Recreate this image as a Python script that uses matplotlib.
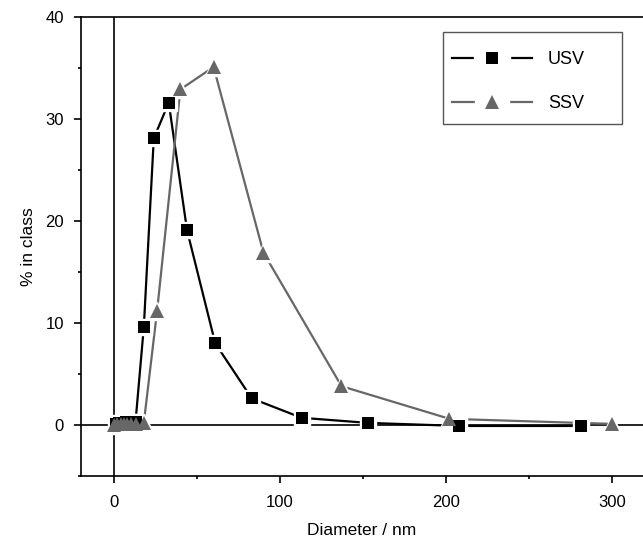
import matplotlib
matplotlib.use("Agg")
import matplotlib.pyplot as plt
from matplotlib.lines import Line2D
from matplotlib.patches import Rectangle
from matplotlib.ticker import MultipleLocator

plt.rcParams["font.family"] = ["Liberation Sans", "DejaVu Sans"]

# USV data (black squares)
usv_d = [1, 3, 5, 7, 9, 11, 13, 18, 24, 33, 44, 61, 83, 113, 153, 208, 281]
usv_p = [0.1, 0.2, 0.2, 0.3, 0.2, 0.3, 0.3, 9.6, 28.1, 31.6, 19.1, 8.0, 2.6, 0.7, 0.2, -0.1, -0.1]

# SSV data (grey triangles)
ssv_d = [0, 2, 4, 6, 8, 10, 13, 18, 26, 40, 60, 90, 137, 202, 300]
ssv_p = [0.0, 0.1, 0.1, 0.1, 0.1, 0.1, 0.1, 0.2, 11.2, 32.9, 35.1, 16.9, 3.8, 0.6, 0.1]

grey = "#676767"

fig = plt.figure(figsize=(6.43, 5.39), dpi=100)
ax = fig.add_axes([0.1255, 0.117, 0.8745, 0.8515])

ax.axhline(0, color="black", lw=1.2, zorder=1)
ax.axvline(0, color="black", lw=1.2, zorder=1)

# lines
ax.plot(usv_d, usv_p, color="black", lw=1.6, zorder=2)
ax.plot(ssv_d, ssv_p, color=grey, lw=1.6, zorder=2)
# white gaps around markers
ax.plot(usv_d, usv_p, ls="none", marker="s", ms=12, mfc="white", mec="white", zorder=3)
ax.plot(ssv_d, ssv_p, ls="none", marker="^", ms=13, mfc="white", mec="white", zorder=3)
# markers
ax.plot(usv_d, usv_p, ls="none", marker="s", ms=9, mfc="black", mec="black", mew=0, zorder=4)
ax.plot(ssv_d, ssv_p, ls="none", marker="^", ms=10, mfc=grey, mec=grey, mew=0, zorder=5)

ax.set_xlim(-20, 318.5)
ax.set_ylim(-5, 40)
ax.xaxis.set_major_locator(MultipleLocator(100))
ax.xaxis.set_minor_locator(MultipleLocator(50))
ax.yaxis.set_major_locator(MultipleLocator(10))
ax.yaxis.set_minor_locator(MultipleLocator(5))
ax.tick_params(which="major", direction="out", length=5, width=1.2, labelsize=12, pad=7)
ax.tick_params(axis="x", which="major", pad=9)
ax.tick_params(which="minor", direction="out", length=2.5, width=1.2)

ax.spines["right"].set_visible(False)
for s in ["left", "top", "bottom"]:
    ax.spines[s].set_linewidth(1.2)

ax.set_xlabel("Diameter / nm", fontsize=12.5, labelpad=9)
ax.set_ylabel("% in class", fontsize=12.5, labelpad=7)

# legend: line - marker - line with gaps, frame drawn separately
usv_h = (Line2D([], [], color="black", lw=1.6),
         Line2D([], [], ls="none", marker="s", ms=26, mfc="white", mec="white"),
         Line2D([], [], ls="none", marker="s", ms=8.7, mfc="black", mec="black", mew=0))
ssv_h = (Line2D([], [], color=grey, lw=1.6),
         Line2D([], [], ls="none", marker="s", ms=25, mfc="white", mec="white"),
         Line2D([], [], ls="none", marker="^", ms=10, mfc=grey, mec=grey, mew=0))
ax.legend([usv_h, ssv_h], ["USV", "SSV"], loc="upper left",
          bbox_to_anchor=(0.6603, 0.925), fontsize=13, handlelength=4.43,
          handletextpad=0.89, frameon=False, borderpad=0, labelspacing=1.47,
          borderaxespad=0)
ax.add_patch(Rectangle((0.6443, 0.7669), 0.3184, 0.2004, transform=ax.transAxes,
                       fill=False, edgecolor="#555555", lw=1.0, zorder=6))

fig.savefig("out.png", dpi=100)
